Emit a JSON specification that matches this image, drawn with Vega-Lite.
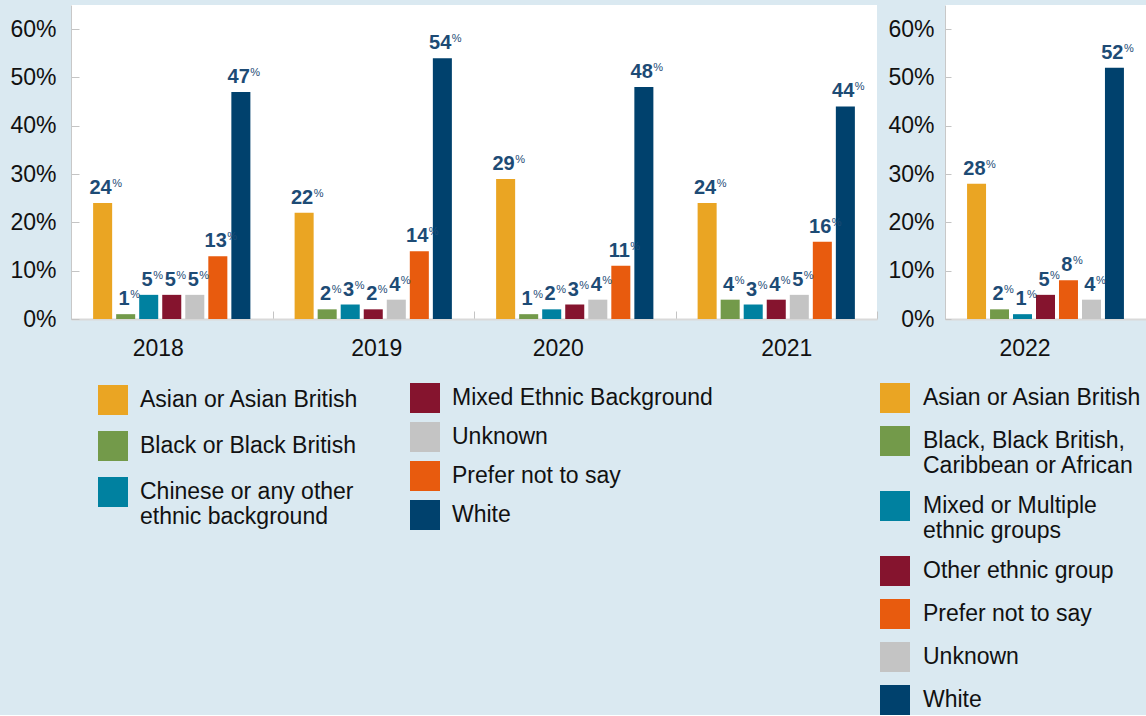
{
  "$schema": "https://vega.github.io/schema/vega-lite/v6.json",
  "background": "#dae9f1",
  "padding": {"left": 9, "top": 5, "right": 0, "bottom": 0},
  "config": {
    "font": "Liberation Sans",
    "view": {"fill": "white", "stroke": null}
  },
  "datasets": {
    "left": [
      {"year": "2018", "group": "Asian or Asian British", "value": 24},
      {"year": "2018", "group": "Black or Black British", "value": 1},
      {"year": "2018", "group": "Chinese or any other ethnic background", "value": 5},
      {"year": "2018", "group": "Mixed Ethnic Background", "value": 5},
      {"year": "2018", "group": "Unknown", "value": 5},
      {"year": "2018", "group": "Prefer not to say", "value": 13},
      {"year": "2018", "group": "White", "value": 47},
      {"year": "2019", "group": "Asian or Asian British", "value": 22},
      {"year": "2019", "group": "Black or Black British", "value": 2},
      {"year": "2019", "group": "Chinese or any other ethnic background", "value": 3},
      {"year": "2019", "group": "Mixed Ethnic Background", "value": 2},
      {"year": "2019", "group": "Unknown", "value": 4},
      {"year": "2019", "group": "Prefer not to say", "value": 14},
      {"year": "2019", "group": "White", "value": 54},
      {"year": "2020", "group": "Asian or Asian British", "value": 29},
      {"year": "2020", "group": "Black or Black British", "value": 1},
      {"year": "2020", "group": "Chinese or any other ethnic background", "value": 2},
      {"year": "2020", "group": "Mixed Ethnic Background", "value": 3},
      {"year": "2020", "group": "Unknown", "value": 4},
      {"year": "2020", "group": "Prefer not to say", "value": 11},
      {"year": "2020", "group": "White", "value": 48},
      {"year": "2021", "group": "Asian or Asian British", "value": 24},
      {"year": "2021", "group": "Black or Black British", "value": 4},
      {"year": "2021", "group": "Chinese or any other ethnic background", "value": 3},
      {"year": "2021", "group": "Mixed Ethnic Background", "value": 4},
      {"year": "2021", "group": "Unknown", "value": 5},
      {"year": "2021", "group": "Prefer not to say", "value": 16},
      {"year": "2021", "group": "White", "value": 44}
    ],
    "right": [
      {"year": "2022", "group": "Asian or Asian British", "value": 28},
      {"year": "2022", "group": "Black, Black British, Caribbean or African", "value": 2},
      {"year": "2022", "group": "Mixed or Multiple ethnic groups", "value": 1},
      {"year": "2022", "group": "Other ethnic group", "value": 5},
      {"year": "2022", "group": "Prefer not to say", "value": 8},
      {"year": "2022", "group": "Unknown", "value": 4},
      {"year": "2022", "group": "White", "value": 52}
    ]
  },
  "spacing": 2,
  "resolve": {
    "scale": {"color": "independent", "xOffset": "independent"},
    "legend": {"color": "independent"}
  },
  "hconcat": [
    {
      "width": 806,
      "height": 314,
      "data": {"name": "left"},
      "encoding": {
        "x": {
          "field": "year", "type": "nominal",
          "scale": {"paddingInner": 0, "paddingOuter": 0},
          "axis": {
            "title": null, "labelAngle": 0, "tickBand": "extent", "tickSize": -8,
            "tickColor": "#c4c4c4", "tickWidth": 1,
            "domainColor": "#d9d9d9", "domainWidth": 2,
            "labelFont": "Liberation Sans", "labelFontSize": 23, "labelColor": "#111111",
            "labelBaseline": "top", "labelPadding": 26,
            "labelOffset": {"condition": [
              {"test": "datum.value == '2018'", "value": -14},
              {"test": "datum.value == '2019'", "value": 3},
              {"test": "datum.value == '2020'", "value": -17}
            ], "value": 10}
          }
        },
        "xOffset": {
          "field": "group", "type": "nominal",
          "scale": {
            "domain": ["Asian or Asian British", "Black or Black British", "Chinese or any other ethnic background", "Mixed Ethnic Background", "Unknown", "Prefer not to say", "White"],
            "paddingInner": 0.174, "paddingOuter": 0.96
          }
        },
        "y": {
          "field": "value", "type": "quantitative",
          "scale": {"domain": [0, 65], "nice": false},
          "axis": {
            "title": null, "values": [0, 10, 20, 30, 40, 50, 60], "grid": false,
            "labelExpr": "datum.value + '%'",
            "labelFont": "Liberation Sans", "labelFontSize": 23, "labelColor": "#111111",
            "labelPadding": 23, "tickSize": -8, "tickColor": "#c4c4c4", "tickWidth": 1,
            "domainColor": "#c8c8c8", "domainWidth": 1
          }
        }
      },
      "layer": [
        {
          "transform": [{"filter": {"field": "group", "oneOf": ["Asian or Asian British", "Black or Black British", "Chinese or any other ethnic background"]}}],
          "mark": {"type": "bar"},
          "encoding": {
            "color": {
              "field": "group", "type": "nominal",
              "scale": {"domain": ["Asian or Asian British", "Black or Black British", "Chinese or any other ethnic background"], "range": ["#eaa523", "#739a4a", "#0081a0"]},
              "legend": {
                "orient": "none", "legendX": 27, "legendY": 380, "title": null, "direction": "vertical",
                "symbolType": "square", "symbolSize": 900, "symbolStrokeWidth": 0, "symbolOpacity": 1,
                "labelFont": "Liberation Sans", "labelFontSize": 23, "labelColor": "#111111", "labelOffset": 12, "labelLimit": 500,
                "rowPadding": 16, "padding": 0,
                "labelExpr": "datum.label == 'Chinese or any other ethnic background' ? ['Chinese or any other', 'ethnic background'] : datum.label"
              }
            }
          }
        },
        {
          "transform": [{"filter": {"field": "group", "oneOf": ["Mixed Ethnic Background", "Unknown", "Prefer not to say", "White"]}}],
          "mark": {"type": "bar"},
          "encoding": {
            "color": {
              "field": "group", "type": "nominal",
              "scale": {"domain": ["Mixed Ethnic Background", "Unknown", "Prefer not to say", "White"], "range": ["#85142e", "#c4c4c4", "#e85b0e", "#00416d"]},
              "legend": {
                "orient": "none", "legendX": 339, "legendY": 378, "title": null, "direction": "vertical",
                "symbolType": "square", "symbolSize": 900, "symbolStrokeWidth": 0, "symbolOpacity": 1,
                "labelFont": "Liberation Sans", "labelFontSize": 23, "labelColor": "#111111", "labelOffset": 12, "labelLimit": 500,
                "rowPadding": 9, "padding": 0
              }
            }
          }
        },
        {
          "transform": [{"filter": "datum.value >= 10"}],
          "mark": {"type": "text", "align": "right", "baseline": "alphabetic", "dx": 9, "dy": -9, "font": "Liberation Sans", "fontWeight": "bold", "fontSize": 20, "color": "#1d4b75"},
          "encoding": {"text": {"field": "value", "type": "quantitative"}}
        },
        {
          "transform": [{"filter": "datum.value >= 10"}],
          "mark": {"type": "text", "text": "%", "align": "left", "baseline": "alphabetic", "dx": 9.5, "dy": -16, "font": "Liberation Sans", "fontSize": 11, "color": "#1d4b75"}
        },
        {
          "transform": [{"filter": "datum.value < 10"}],
          "mark": {"type": "text", "align": "right", "baseline": "alphabetic", "dx": 4, "dy": -9, "font": "Liberation Sans", "fontWeight": "bold", "fontSize": 20, "color": "#1d4b75"},
          "encoding": {"text": {"field": "value", "type": "quantitative"}}
        },
        {
          "transform": [{"filter": "datum.value < 10"}],
          "mark": {"type": "text", "text": "%", "align": "left", "baseline": "alphabetic", "dx": 4.5, "dy": -16, "font": "Liberation Sans", "fontSize": 11, "color": "#1d4b75"}
        }
      ],
      "resolve": {"scale": {"color": "independent"}}
    },
    {
      "width": 201,
      "height": 314,
      "data": {"name": "right"},
      "encoding": {
        "x": {
          "field": "year", "type": "nominal",
          "scale": {"paddingInner": 0, "paddingOuter": 0},
          "axis": {
            "title": null, "labelAngle": 0, "tickBand": "extent", "tickSize": -8,
            "tickColor": "#c4c4c4", "tickWidth": 1,
            "domainColor": "#d9d9d9", "domainWidth": 2,
            "labelFont": "Liberation Sans", "labelFontSize": 23, "labelColor": "#111111",
            "labelBaseline": "top", "labelPadding": 26, "labelOffset": -21
          }
        },
        "xOffset": {
          "field": "group", "type": "nominal",
          "scale": {
            "domain": ["Asian or Asian British", "Black, Black British, Caribbean or African", "Mixed or Multiple ethnic groups", "Other ethnic group", "Prefer not to say", "Unknown", "White"],
            "paddingInner": 0.174, "paddingOuter": 0.96
          }
        },
        "y": {
          "field": "value", "type": "quantitative",
          "scale": {"domain": [0, 65], "nice": false},
          "axis": {
            "title": null, "values": [0, 10, 20, 30, 40, 50, 60], "grid": false,
            "labelExpr": "datum.value + '%'",
            "labelFont": "Liberation Sans", "labelFontSize": 23, "labelColor": "#111111",
            "labelPadding": 17, "tickSize": -6, "tickColor": "#c4c4c4", "tickWidth": 1,
            "domainColor": "#c8c8c8", "domainWidth": 1
          }
        }
      },
      "layer": [
        {
          "mark": {"type": "bar"},
          "encoding": {
            "color": {
              "field": "group", "type": "nominal",
              "scale": {
                "domain": ["Asian or Asian British", "Black, Black British, Caribbean or African", "Mixed or Multiple ethnic groups", "Other ethnic group", "Prefer not to say", "Unknown", "White"],
                "range": ["#eaa523", "#739a4a", "#0081a0", "#85142e", "#e85b0e", "#c4c4c4", "#00416d"]
              },
              "legend": {
                "orient": "none", "legendX": -65, "legendY": 378, "title": null, "direction": "vertical",
                "symbolType": "square", "symbolSize": 900, "symbolStrokeWidth": 0, "symbolOpacity": 1,
                "labelFont": "Liberation Sans", "labelFontSize": 23, "labelColor": "#111111", "labelOffset": 13, "labelLimit": 500,
                "rowPadding": 13, "padding": 0,
                "labelExpr": "datum.label == 'Black, Black British, Caribbean or African' ? ['Black, Black British,', 'Caribbean or African'] : datum.label == 'Mixed or Multiple ethnic groups' ? ['Mixed or Multiple', 'ethnic groups'] : datum.label"
              }
            }
          }
        },
        {
          "transform": [{"filter": "datum.value >= 10"}],
          "mark": {"type": "text", "align": "right", "baseline": "alphabetic", "dx": 9, "dy": -9, "font": "Liberation Sans", "fontWeight": "bold", "fontSize": 20, "color": "#1d4b75"},
          "encoding": {"text": {"field": "value", "type": "quantitative"}}
        },
        {
          "transform": [{"filter": "datum.value >= 10"}],
          "mark": {"type": "text", "text": "%", "align": "left", "baseline": "alphabetic", "dx": 9.5, "dy": -16, "font": "Liberation Sans", "fontSize": 11, "color": "#1d4b75"}
        },
        {
          "transform": [{"filter": "datum.value < 10"}],
          "mark": {"type": "text", "align": "right", "baseline": "alphabetic", "dx": 4, "dy": -9, "font": "Liberation Sans", "fontWeight": "bold", "fontSize": 20, "color": "#1d4b75"},
          "encoding": {"text": {"field": "value", "type": "quantitative"}}
        },
        {
          "transform": [{"filter": "datum.value < 10"}],
          "mark": {"type": "text", "text": "%", "align": "left", "baseline": "alphabetic", "dx": 4.5, "dy": -16, "font": "Liberation Sans", "fontSize": 11, "color": "#1d4b75"}
        }
      ]
    }
  ]
}
